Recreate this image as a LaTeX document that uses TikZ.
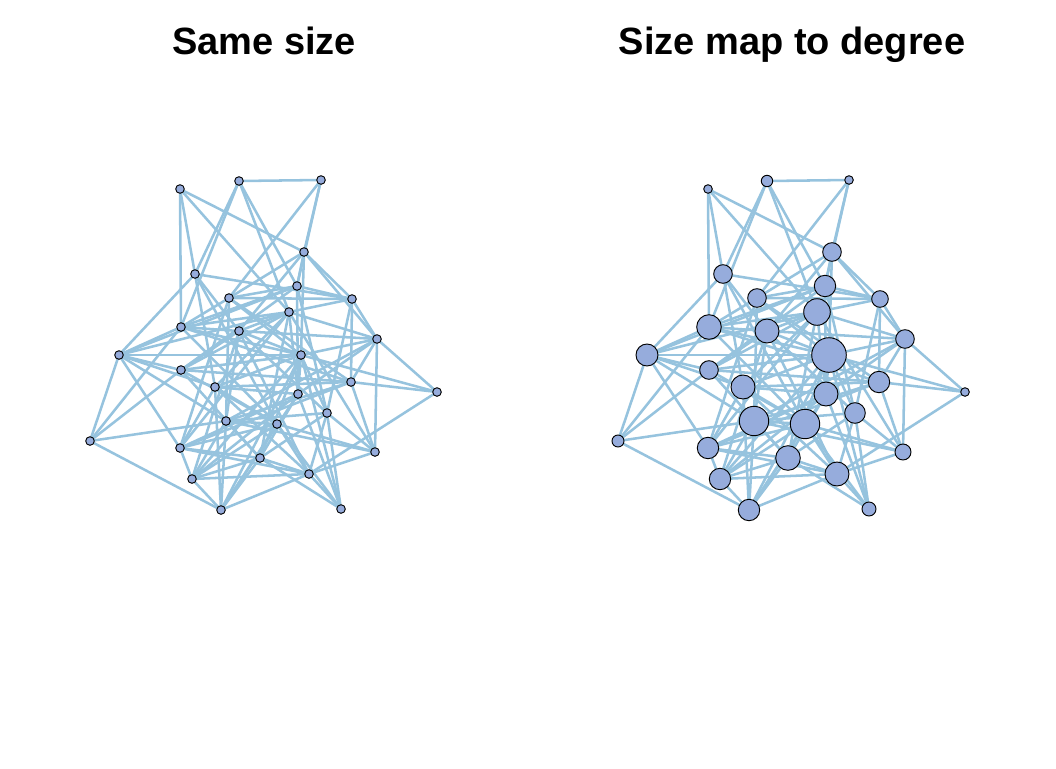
\documentclass[tikz,border=0pt]{standalone}
\usepackage{fontspec}
\setmainfont{Liberation Sans}
\definecolor{vfill}{RGB}{150,172,220}
\definecolor{ecol}{RGB}{150,195,222}
\pgfdeclarelayer{bg}
\pgfsetlayers{bg,main}
\tikzset{
  vtx/.style={circle, draw=black, line width=0.7pt, fill=vfill, inner sep=0pt, outer sep=0pt},
  edgeline/.style={draw=ecol, line width=1.9pt},
  ttl/.style={font=\bfseries\fontsize{28.5}{34}\selectfont, anchor=base}
}
\begin{document}
\begin{tikzpicture}[x=0.75pt,y=-0.75pt]
\useasboundingbox (0,0) rectangle (1056,768);
\node[ttl] (t1) at (264,54) {Same size};
\node[ttl] (t2) at (792,54) {Size map to degree};
% nodes: name / x / y / diameter(pt) in right graph
\foreach \n/\x/\y/\d in {A/180/189/6.45, B/239/181/8.55, C/321/180/6.45, D/304/252/13.95,
  E/195/274/13.95, F/297/286/16.05, G/229/298/13.95, H/352/299/12.45, I/289/312/19.95,
  J/181/327/18.45, K/239/331/18, L/377/339/13.95, M/119/355/16.5, N/301/355/25.95,
  O/181/370/13.95, P/215/387/18, Q/351/382/16.05, R/437/392/6.45, S/298/394/18,
  T/327/413/15.45, U/226/421/22.05, V/277/424/22.05, W/90/441/9, X/180/448/16.05,
  Y/375/452/12, Z/260/458/18.45, AA/192/479/16.05, BB/309/474/18, CC/221/510/16.05,
  DD/341/509/10.5}{
  \node[vtx, minimum size=6.45pt] (L\n) at (\x,\y) {};
  \node[vtx, minimum size=\d pt] (R\n) at (\x+528,\y) {};
}
\begin{pgfonlayer}{bg}
\foreach \a/\b in {A/J, A/E, A/D, A/I,
B/C, B/E, B/J, B/F, B/I,
C/D, C/F, C/G,
D/F, D/N, D/H, D/L, D/G, D/K,
E/H, E/M, E/P, E/K, E/V,
F/H, F/J, F/M, F/S, F/T, F/O, F/G,
G/H, G/J, G/U, G/N, G/Q, G/X,
H/L, H/Q, H/I, H/T,
I/J, I/K, I/L, I/O, I/P, I/S, I/X, I/Z, I/Y, I/M,
J/M, J/W, J/K, J/N, J/Q, J/V,
K/N, K/L, K/O, K/U, K/T, K/AA, K/BB,
L/N, L/S, L/Q, L/U, L/Y, L/R,
M/W, M/O, M/X, M/N, M/U, M/P,
N/R, N/O, N/P, N/S, N/T, N/Z, N/CC, N/DD, N/AA,
O/V, O/Q, O/W, O/Z,
P/S, P/Q, P/X, P/CC, P/BB, P/V,
Q/R, Q/Y, Q/U, Q/X,
R/BB,
S/X, S/AA, S/CC, S/Z, S/DD,
T/Y, T/DD, T/BB, T/U, T/Z,
U/W, U/V, U/CC, U/AA, U/Z, U/Y,
V/Y, V/CC, V/DD, V/AA, V/X, V/BB,
W/CC,
X/Z, X/AA, X/BB,
Y/BB,
Z/AA, Z/CC, Z/DD, Z/BB,
AA/CC, AA/BB,
BB/CC, BB/DD}{
  \draw[edgeline] (L\a) -- (L\b);
  \draw[edgeline] (R\a) -- (R\b);
}
\end{pgfonlayer}
\end{tikzpicture}
\end{document}
